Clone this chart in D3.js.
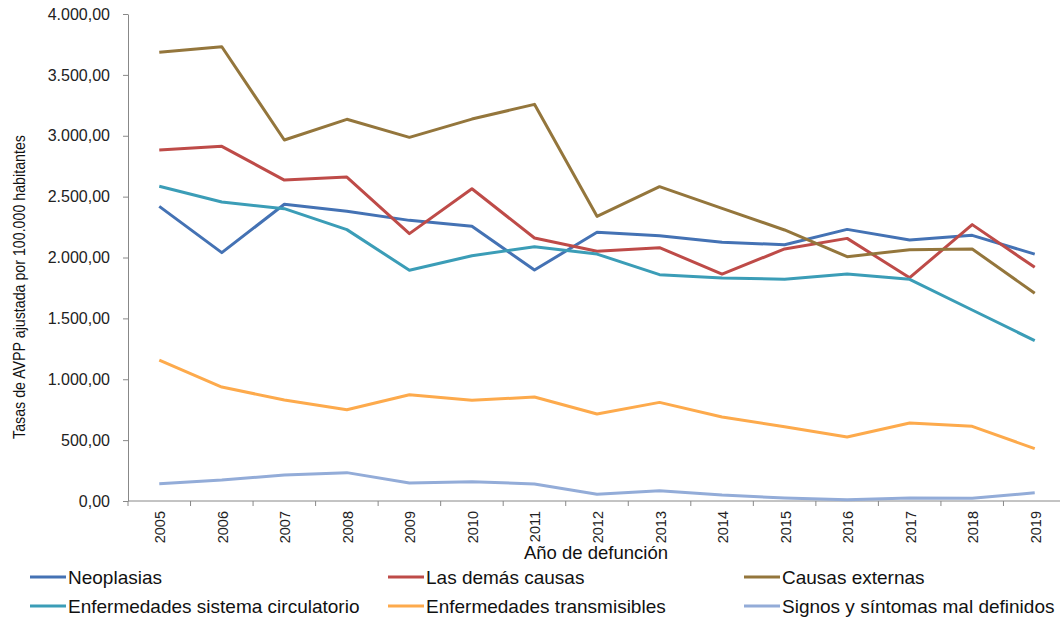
<!DOCTYPE html>
<html>
<head>
<meta charset="utf-8">
<script src="https://cdn.jsdelivr.net/npm/d3@7"></script>
<style>
  body { margin: 0; background: #fff; }
  svg { display: block; }
</style>
</head>
<body>
<div id="chart"></div>
<script>
// years on the x axis
var years = ["2005","2006","2007","2008","2009","2010","2011","2012","2013","2014","2015","2016","2017","2018","2019"];

// rates per 100.000
var neoplasias    = [2420, 2040, 2437, 2379, 2305, 2256, 1897, 2207, 2179, 2125, 2105, 2231, 2144, 2182, 2028];
var demasCausas   = [2883, 2913, 2636, 2661, 2196, 2565, 2160, 2051, 2081, 1864, 2070, 2157, 1834, 2270, 1919];
var causasExt     = [3685, 3731, 2965, 3135, 2987, 3137, 3258, 2338, 2582, 2404, 2226, 2007, 2064, 2070, 1706];
var circulatorio  = [2585, 2456, 2401, 2229, 1895, 2015, 2089, 2028, 1859, 1832, 1821, 1864, 1821, 1569, 1317];
var transmisibles = [1158, 936, 830, 750, 873, 827, 854, 715, 810, 690, 610, 526, 641, 613, 430];
var signos        = [142, 172, 214, 233, 148, 159, 140, 55, 85, 49, 25, 11, 25, 22, 68];

var yTicks = [0, 500, 1000, 1500, 2000, 2500, 3000, 3500, 4000];

var series = [
  {name: "Neoplasias", values: neoplasias, color: "#4472b4"},
  {name: "Las demás causas", values: demasCausas, color: "#be4b48"},
  {name: "Causas externas", values: causasExt, color: "#94763c"},
  {name: "Enfermedades sistema circulatorio", values: circulatorio, color: "#3b9db7"},
  {name: "Enfermedades transmisibles", values: transmisibles, color: "#fdaa4c"},
  {name: "Signos y síntomas mal definidos", values: signos, color: "#93acd8"}
];

var width = 1060;
var height = 617;
var margin = {left: 128, top: 14, right: -6, bottom: 116};
var font = "Liberation Sans, Arial, sans-serif";

var svg = d3.select("#chart")
  .append("svg")
  .attr("width", width)
  .attr("height", height);

var x = d3.scaleBand()
  .domain(years)
  .range([margin.left, width - margin.right]);

var y = d3.scaleLinear()
  .domain([0, 4000])
  .range([height - margin.bottom, margin.top]);

// comma decimals, dot thousands
var fmt = d3.formatLocale({decimal: ",", thousands: ".", grouping: [3], currency: ["", ""]}).format(",.2f");

var axisColor = "#888";

// y axis
var yAxis = svg.append("g")
  .attr("transform", "translate(" + margin.left + ",0)")
  .call(d3.axisLeft(y).tickValues(yTicks).tickFormat(fmt).tickSize(5).tickSizeOuter(0));
yAxis.select(".domain").attr("stroke", axisColor);
yAxis.selectAll(".tick line").attr("stroke", axisColor);
yAxis.selectAll(".tick text")
  .attr("x", -18)
  .style("font-family", font)
  .style("font-size", "16px")
  .attr("fill", "#222");

// x axis, ticks on category boundaries
var xAxis = svg.append("g")
  .attr("transform", "translate(0," + y(0) + ")");
xAxis.append("line")
  .attr("x1", margin.left).attr("x2", width)
  .attr("stroke", axisColor);
xAxis.selectAll(".bound")
  .data(years)
  .enter()
  .append("line")
  .attr("x1", d => x(d)).attr("x2", d => x(d))
  .attr("y1", 0).attr("y2", 5)
  .attr("stroke", axisColor);
xAxis.selectAll(".lbl")
  .data(years)
  .enter()
  .append("text")
  .attr("transform", d => "translate(" + (x(d) + x.bandwidth() / 2 + 6) + ",10) rotate(-90)")
  .attr("text-anchor", "end")
  .style("font-family", font)
  .style("font-size", "14.5px")
  .attr("fill", "#222")
  .text(d => d);

// axis titles
svg.append("text")
  .attr("x", 596)
  .attr("y", 559)
  .attr("text-anchor", "middle")
  .style("font-family", font)
  .style("font-size", "18.5px")
  .attr("fill", "#111")
  .text("Año de defunción");

// narrow-looking y title: squeeze along the text direction
svg.append("text")
  .attr("transform", "translate(25,287) rotate(-90) scale(0.89,1)")
  .attr("text-anchor", "middle")
  .style("font-family", font)
  .style("font-size", "16px")
  .attr("fill", "#111")
  .text("Tasas de AVPP ajustada por 100.000 habitantes");

// lines
var line = d3.line()
  .x((d, i) => x(years[i]) + x.bandwidth() / 2)
  .y(d => y(d));

svg.selectAll(".series")
  .data(series)
  .enter()
  .append("path")
  .attr("d", d => line(d.values))
  .attr("fill", "none")
  .attr("stroke", d => d.color)
  .attr("stroke-width", 3)
  .attr("stroke-linejoin", "round");

// legend, 3 columns x 2 rows
var legX = [30, 388, 744];
var legY = [577, 606];
var leg = svg.selectAll(".leg")
  .data(series)
  .enter()
  .append("g")
  .attr("transform", (d, i) => "translate(" + legX[i % 3] + "," + legY[Math.floor(i / 3)] + ")");
leg.append("line")
  .attr("x1", 0).attr("x2", 36)
  .attr("stroke", d => d.color)
  .attr("stroke-width", 3);
leg.append("text")
  .attr("x", 38)
  .attr("dy", "0.35em")
  .style("font-family", font)
  .style("font-size", "19px")
  .attr("fill", "#111")
  .text(d => d.name);
</script>
</body>
</html>
